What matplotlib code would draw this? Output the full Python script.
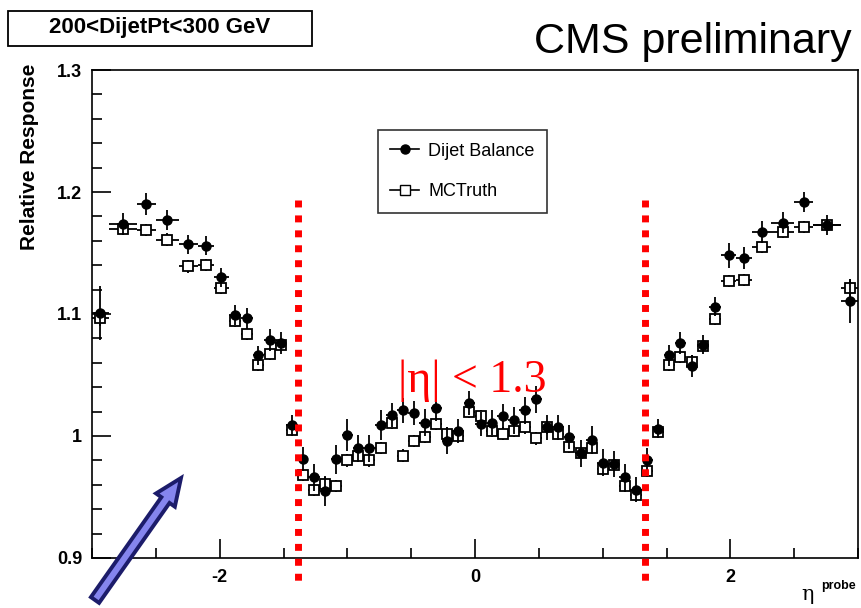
import numpy as np
import matplotlib
matplotlib.use("Agg")
import matplotlib.pyplot as plt
from matplotlib.lines import Line2D
from matplotlib.patches import Rectangle, FancyArrow
from matplotlib.transforms import IdentityTransform, blended_transform_factory

plt.rcParams['font.family'] = ['Liberation Sans', 'DejaVu Sans']
plt.rcParams['axes.unicode_minus'] = False

# eta bin edges (calorimeter towers)
eta_edges = [-3.000, -2.868, -2.650, -2.500, -2.322, -2.172, -2.043, -1.930, -1.830,
             -1.740, -1.653, -1.566, -1.479, -1.392, -1.305, -1.218, -1.131, -1.044,
             -0.957, -0.870, -0.783, -0.696, -0.609, -0.522, -0.435, -0.348, -0.261,
             -0.174, -0.087, 0.000, 0.087, 0.174, 0.261, 0.348, 0.435, 0.522, 0.609,
             0.696, 0.783, 0.870, 0.957, 1.044, 1.131, 1.218, 1.305, 1.392, 1.479,
             1.566, 1.653, 1.740, 1.830, 1.930, 2.043, 2.172, 2.322, 2.500, 2.650,
             2.868, 3.000]

dijet = [1.101, 1.174, 1.190, 1.177, 1.157, 1.156, 1.130, 1.099, 1.097, 1.066, 1.079, 1.076, 1.009,
         0.981, 0.966, 0.955, 0.981, 1.001, 0.990, 0.990, 1.009, 1.017, 1.021, 1.019, 1.011,
         1.023, 0.996, 1.004, 1.027, 1.010, 1.011, 1.016, 1.013, 1.021, 1.030, 1.007, 1.007,
         0.999, 0.986, 0.997, 0.978, 0.977, 0.966, 0.956, 0.980,
         1.006, 1.066, 1.076, 1.057, 1.075, 1.106, 1.148, 1.146, 1.167, 1.175, 1.192, 1.173, 1.111]
dijet_err = [0.022, 0.009, 0.009, 0.008, 0.008, 0.008, 0.008, 0.008, 0.008, 0.008, 0.009, 0.009, 0.008,
             0.010, 0.011, 0.012, 0.012, 0.013, 0.011, 0.011, 0.012, 0.010, 0.010, 0.010, 0.011,
             0.011, 0.011, 0.010, 0.010, 0.010, 0.010, 0.010, 0.011, 0.011, 0.011, 0.010, 0.010,
             0.010, 0.011, 0.011, 0.011, 0.011, 0.011, 0.010, 0.010,
             0.008, 0.009, 0.009, 0.009, 0.008, 0.008, 0.010, 0.009, 0.009, 0.009, 0.008, 0.008, 0.018]

mctruth = [1.097, 1.170, 1.169, 1.161, 1.139, 1.140, 1.121, 1.094, 1.084, 1.058, 1.067, 1.075, 1.005,
           0.968, 0.956, 0.961, 0.959, 0.980, 0.984, 0.980, 0.990, 1.011, 0.984, 0.996, 0.999,
           1.010, 1.002, 1.000, 1.020, 1.016, 1.004, 1.002, 1.004, 1.007, 0.998, 1.007, 1.002,
           0.991, 0.986, 0.990, 0.973, 0.976, 0.959, 0.952, 0.971,
           1.003, 1.058, 1.065, 1.061, 1.074, 1.096, 1.127, 1.128, 1.155, 1.167, 1.171, 1.173, 1.121]
mc_err = [0.007] + [0.005] * 56 + [0.008]

ytick_vals = [0.9, 1.0, 1.1, 1.2, 1.3]
ytick_labels = ['0.9', '1', '1.1', '1.2', '1.3']
xtick_vals = [-2, 0, 2]

edges = np.array(eta_edges)
eta = 0.5 * (edges[1:] + edges[:-1])
half = 0.5 * (edges[1:] - edges[:-1])

W, H = 861, 608
fig = plt.figure(figsize=(W / 100, H / 100), dpi=100)
ax = fig.add_axes([92 / W, 1 - 558 / H, 766 / W, 488 / H])

ax.errorbar(eta, mctruth, xerr=half, yerr=mc_err, fmt='s', color='black',
            mfc='white', mec='black', ms=7.5, mew=1.3, elinewidth=1.3, capsize=0, zorder=3)
ax.errorbar(eta, dijet, xerr=half, yerr=dijet_err, fmt='o', color='black',
            ms=6.5, elinewidth=1.3, capsize=0, zorder=4)

ax.set_xlim(-3, 3)
ax.set_ylim(0.9, 1.3)
ax.set_yticks(ytick_vals)
ax.set_yticklabels(ytick_labels)
ax.set_xticks(xtick_vals)
ax.set_xticks(np.arange(-3, 3.01, 0.5), minor=True)
ax.set_yticks(np.arange(0.9, 1.301, 0.02), minor=True)
ax.tick_params(which='both', direction='in', top=False, right=False, width=1.2)
ax.tick_params(which='major', length=14)
ax.tick_params(which='minor', length=7)
ax.tick_params(axis='y', pad=7)
ax.tick_params(axis='x', pad=8)
for lab in ax.get_xticklabels() + ax.get_yticklabels():
    lab.set_fontweight('bold')
    lab.set_fontsize(13)
for sp in ax.spines.values():
    sp.set_linewidth(1.2)

# legend
handles = [Line2D([], [], color='black', marker='o', ms=6.5, lw=1.2),
           Line2D([], [], color='black', marker='s', ms=7, mfc='white', lw=1.2)]
leg = ax.legend(handles, ['Dijet Balance', 'MCTruth'], loc='upper left',
                bbox_to_anchor=(0.373, 0.877), fontsize=13, frameon=True,
                fancybox=False, handlelength=1.6, handletextpad=0.5,
                labelspacing=1.3, borderpad=0.7, borderaxespad=0)
leg.get_frame().set_edgecolor('black')
leg.get_frame().set_linewidth(1.2)

# |eta| < 1.3 boundaries
tr = blended_transform_factory(ax.transData, fig.transFigure)
for xb in [-1.385, 1.335]:
    ax.plot([xb, xb], [1 - 200 / H, 1 - 582 / H], transform=tr, color='red', lw=5,
            linestyle=(0, (1, 1.15)), dash_capstyle='butt', clip_on=False, zorder=5)
ax.text(-0.02, 1.045, r'|η| < 1.3', color='red', fontsize=33, ha='center', va='center',
        family='Liberation Serif', zorder=6)

# axis titles
fig.text(30 / W, 1 - 64 / H, 'Relative Response', rotation=90, ha='center', va='top',
         fontsize=15, fontweight='bold')
fig.text(808 / W, 1 - 594 / H, 'η', fontsize=15, ha='center', va='center',
         family='DejaVu Serif')
fig.text(838 / W, 1 - 586 / H, 'probe', fontsize=9, ha='center', va='center',
         fontweight='bold')

# header box and CMS label
fig.patches.append(Rectangle((8 / W, 1 - 46 / H), 304 / W, 35 / H, transform=fig.transFigure,
                             facecolor='white', edgecolor='black', lw=1.3))
fig.text(160 / W, 1 - 28 / H, '200<DijetPt<300 GeV', ha='center', va='center',
         fontsize=16, fontweight='bold')
fig.text(852 / W, 1 - 42 / H, 'CMS preliminary', ha='right', va='center',
         fontsize=31)

# arrow
arr = FancyArrow(95, H - 600, 86, 122, width=10, head_width=23, head_length=27,
                 length_includes_head=True, transform=IdentityTransform(),
                 facecolor='#8585ee', edgecolor='#1c1c6a', lw=2.8, zorder=10)
fig.patches.append(arr)

fig.savefig('out.png', dpi=100)
